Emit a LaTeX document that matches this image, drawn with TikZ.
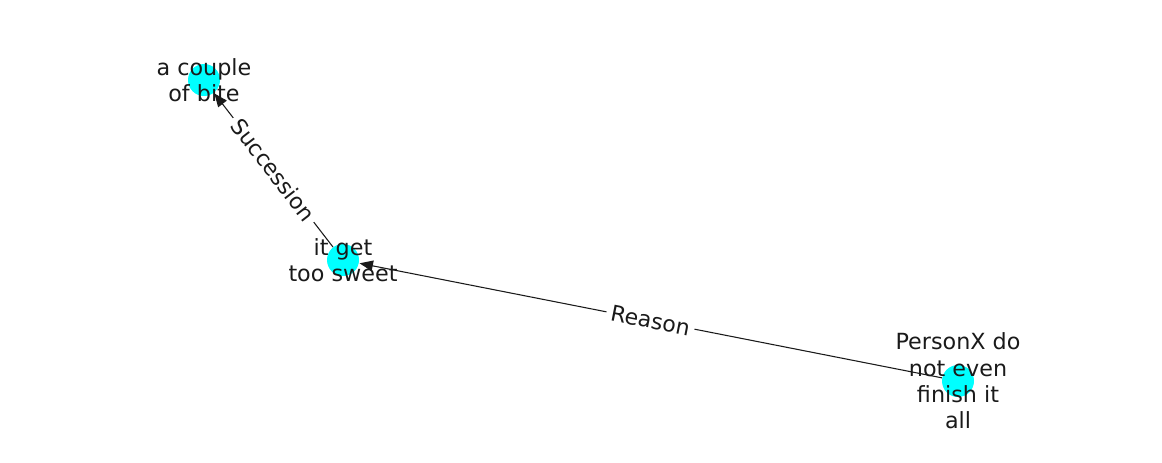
\documentclass[tikz,border=0pt]{standalone}
\usepackage{fontspec}
\setmainfont{DejaVu Sans}
\usetikzlibrary{arrows.meta}
\definecolor{nodecyan}{RGB}{0,255,255}
\definecolor{txt}{RGB}{26,26,26}
\begin{document}
\begin{tikzpicture}[x=0.75pt,y=-0.75pt,
  dot/.style={circle,fill=nodecyan,minimum size=24pt,inner sep=0pt},
  lbl/.style={align=center,font=\fontsize{16.7pt}{19.8pt}\selectfont,text=txt,inner sep=0pt},
  elbl/.style={fill=white,inner sep=3.5pt,font=\fontsize{16.5pt}{19pt}\selectfont,text=txt},
  edge/.style={draw=txt,line width=0.8pt,-{Triangle[length=10pt,width=8pt]},shorten >=0.5pt}]
\useasboundingbox (0,0) rectangle (1162,462);
\node[dot] (A) at (204,80) {};
\node[dot] (B) at (343,260) {};
\node[dot] (C) at (958,381) {};
\draw[edge] (C) -- (B) coordinate[midway] (rm);
\draw[edge] (B) -- (A) coordinate[midway] (sm);
\node[lbl] (tA) at (204,80) {a couple\\of bite};
\node[lbl] (tB) at (343,260) {it get\\too sweet};
\node[lbl] (tC) at (958,381) {PersonX do\\not even\\finish it\\all};
\node[elbl,rotate=-11.1] (r) at (rm) {Reason};
\node[elbl,rotate=-52.3] (s) at (sm) {Succession};
\end{tikzpicture}
\end{document}
